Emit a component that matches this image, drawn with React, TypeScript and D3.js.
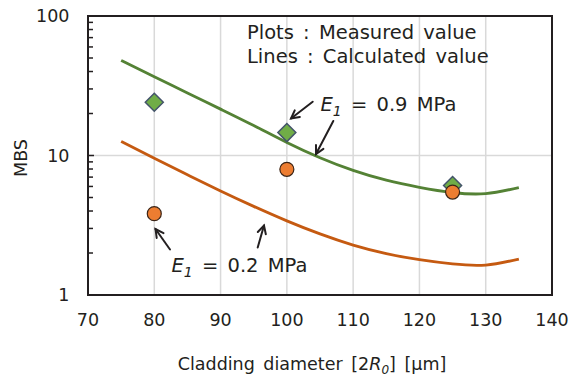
import React from "react";
import * as d3 from "d3";

const xTicks = [70, 80, 90, 100, 110, 120, 130, 140];
const yTicks = [1, 10, 100];
const lineX = [75, 80, 85, 90, 95, 100, 105, 110, 115, 120, 125, 130, 135];
const calc09 = [48, 36.7, 28.1, 21.5, 16.4, 12.4, 9.64, 7.82, 6.65, 5.92, 5.43, 5.33, 5.89];
const calc02 = [12.6, 9.55, 7.28, 5.57, 4.32, 3.4, 2.74, 2.28, 1.98, 1.79, 1.67, 1.64, 1.81];
const measX = [80, 100, 125];
const meas09 = [24.1, 14.6, 6.1];
const meas02 = [3.83, 7.96, 5.47];

const W = 580, H = 378;
const M = { left: 88, right: 552, top: 16, bottom: 295 };
const FONT = "'DejaVu Sans', Verdana, sans-serif";
const TXT = "#231f20";

function Arrow({ x1, y1, x2, y2 }: { x1: number; y1: number; x2: number; y2: number }) {
  const ang = Math.atan2(y2 - y1, x2 - x1);
  const L = 9, a = Math.PI / 6.5;
  const p1 = [x2 - L * Math.cos(ang - a), y2 - L * Math.sin(ang - a)];
  const p2 = [x2 - L * Math.cos(ang + a), y2 - L * Math.sin(ang + a)];
  return (
    <g stroke={TXT} strokeWidth={2} fill="none" strokeLinecap="round" strokeLinejoin="miter">
      <line x1={x1} y1={y1} x2={x2} y2={y2} />
      <polyline points={`${p1[0]},${p1[1]} ${x2},${y2} ${p2[0]},${p2[1]}`} />
    </g>
  );
}

export default function App() {
  const x = d3.scaleLinear().domain([70, 140]).range([M.left, M.right]);
  const y = d3.scaleLog().domain([1, 100]).range([M.bottom, M.top]);
  const line = d3
    .line<number>()
    .x((_, i) => x(lineX[i]))
    .y((d) => y(d))
    .curve(d3.curveNatural);

  const minor: number[] = [];
  [1, 10].forEach((dec) => {
    for (let k = 2; k <= 9; k++) minor.push(dec * k);
  });

  return (
    <svg width={W} height={H} style={{ position: "absolute", left: 0, top: 0, background: "#fff" }} fontFamily={FONT}>
      {/* grid */}
      {xTicks.slice(1, -1).map((t) => (
        <line key={t} x1={x(t)} x2={x(t)} y1={M.top} y2={M.bottom} stroke="#d9d9d9" strokeWidth={1.5} />
      ))}
      <line x1={M.left} x2={M.right} y1={y(10)} y2={y(10)} stroke="#d9d9d9" strokeWidth={1.5} />

      {/* minor ticks */}
      {minor.map((m) => (
        <line key={m} x1={M.left} x2={M.left + 5} y1={y(m)} y2={y(m)} stroke={TXT} strokeWidth={1.5} />
      ))}
      {yTicks.map((t) => (
        <line key={"mj" + t} x1={M.left} x2={M.left + 6} y1={y(t)} y2={y(t)} stroke={TXT} strokeWidth={1.5} />
      ))}

      {/* lines */}
      <path d={line(calc09) || ""} fill="none" stroke="#548235" strokeWidth={2.8} />
      <path d={line(calc02) || ""} fill="none" stroke="#c55a11" strokeWidth={2.8} />

      {/* markers */}
      {measX.map((mx, i) => {
        const cx = x(mx), cy = y(meas09[i]), s = 9;
        return (
          <polygon
            key={"d" + i}
            points={`${cx},${cy - s} ${cx + s},${cy} ${cx},${cy + s} ${cx - s},${cy}`}
            fill="#70ad47"
            stroke="#44546a"
            strokeWidth={1.5}
          />
        );
      })}
      {measX.map((mx, i) => (
        <circle key={"c" + i} cx={x(mx)} cy={y(meas02[i])} r={7} fill="#ed7d31" stroke="#3b2416" strokeWidth={1.2} />
      ))}

      {/* frame */}
      <rect x={M.left} y={M.top} width={M.right - M.left} height={M.bottom - M.top} fill="none" stroke={TXT} strokeWidth={2} />

      {/* tick labels */}
      {xTicks.map((t) => (
        <text key={"xt" + t} x={x(t)} y={326} textAnchor="middle" fontSize={17.5} fill={TXT}>
          {t}
        </text>
      ))}
      {yTicks.map((t) => (
        <text key={"yt" + t} x={69.5} y={y(t) + 6.3} textAnchor="end" fontSize={17.5} fill={TXT}>
          {t}
        </text>
      ))}

      {/* axis titles */}
      <text x={312} y={370} textAnchor="middle" fontSize={17.5} fill={TXT} wordSpacing={3}>
        Cladding diameter [2<tspan fontStyle="italic">R</tspan>
        <tspan fontStyle="italic" fontSize={12} dy={4}>0</tspan>
        <tspan dy={-4}>] [μm]</tspan>
      </text>
      <text transform="translate(27,158) rotate(-90)" textAnchor="middle" fontSize={17.5} fill={TXT}>
        MBS
      </text>

      {/* legend note */}
      <text x={247} y={39} fontSize={19.5} fill={TXT} wordSpacing={3}>
        Plots : Measured value
      </text>
      <text x={247} y={63} fontSize={19.5} fill={TXT} wordSpacing={3}>
        Lines : Calculated value
      </text>

      {/* annotations */}
      <text x={320.5} y={111} fontSize={19.5} fill={TXT} wordSpacing={3}>
        <tspan fontStyle="italic">E</tspan>
        <tspan fontStyle="italic" fontSize={14} dy={5}>1</tspan>
        <tspan dy={-5}> = 0.9 MPa</tspan>
      </text>
      <text x={171.5} y={272} fontSize={19.5} fill={TXT} wordSpacing={3}>
        <tspan fontStyle="italic">E</tspan>
        <tspan fontStyle="italic" fontSize={14} dy={5}>1</tspan>
        <tspan dy={-5}> = 0.2 MPa</tspan>
      </text>
      <Arrow x1={312.7} y1={101.7} x2={291} y2={118.5} />
      <Arrow x1={333.3} y1={121} x2={316} y2={154} />
      <Arrow x1={170} y1={249.5} x2={155.5} y2={229} />
      <Arrow x1={257.7} y1={247.5} x2={264} y2={225.5} />
    </svg>
  );
}
